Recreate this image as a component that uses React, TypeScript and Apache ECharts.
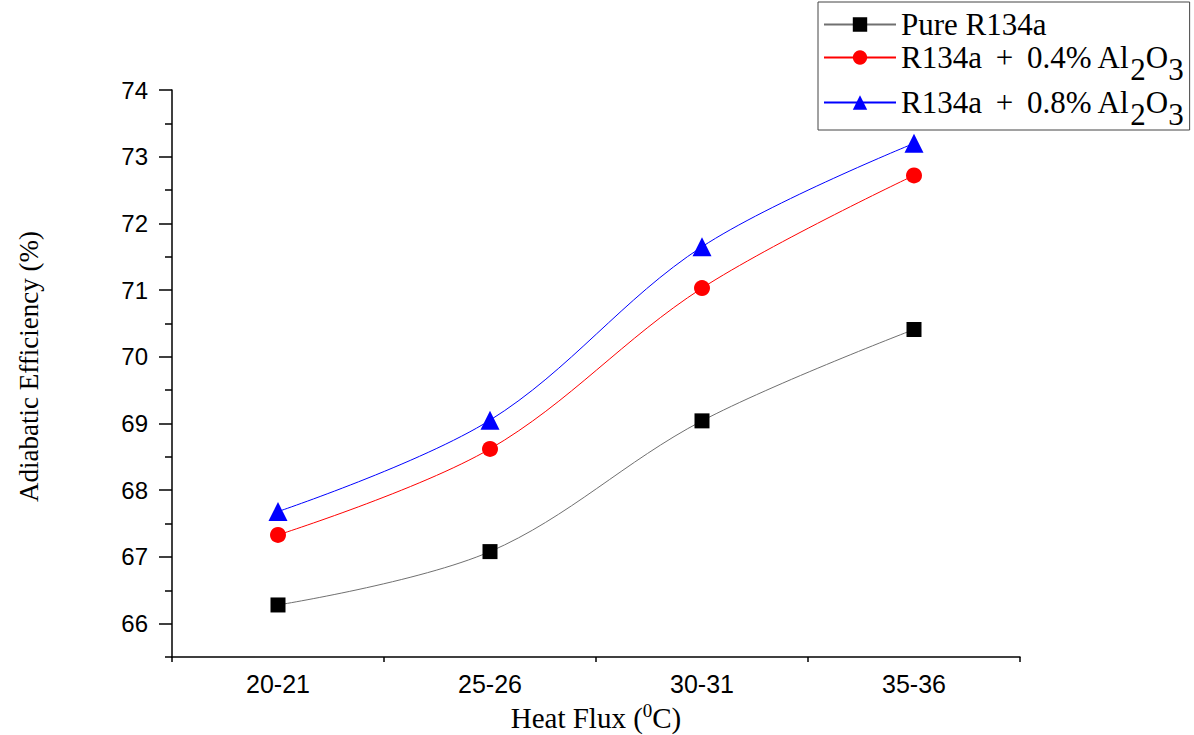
import React, { useEffect, useRef } from "react";
import * as echarts from "echarts";

const categories = ["20-21", "25-26", "30-31", "35-36"];
const pureR134a = [66.28, 67.08, 69.04, 70.41];
const al04 = [67.33, 68.62, 71.03, 72.72];
const al08 = [67.68, 69.05, 71.65, 73.2];
const yMajorTicks = [66, 67, 68, 69, 70, 71, 72, 73, 74];
const yMinorTicks = [65.5, 66.5, 67.5, 68.5, 69.5, 70.5, 71.5, 72.5, 73.5];
const seriesNames = ["Pure R134a", "R134a + 0.4% Al2O3", "R134a + 0.8% Al2O3"];

const SERIF = "'Liberation Serif', 'Times New Roman', serif";
const SANS = "'Liberation Sans', Arial, sans-serif";

function legendFmt(name: string): string {
  const m = name.match(/^R134a \+ (.*)Al2O3$/);
  if (!m) return `{n|${name}}`;
  return `{n|R134a }{w|+}{n| ${m[1]}Al}{s|2}{n|O}{s|3}`;
}

export default function App() {
  const ref = useRef<HTMLDivElement>(null);
  useEffect(() => {
    if (!ref.current) return;
    const chart = echarts.init(ref.current, null, { renderer: "svg" });
    const axisColor = "#000";
    const legendFont = 31;
    chart.setOption({
      animation: false,
      backgroundColor: "#fff",
      grid: { left: 172, right: 174, top: 90, bottom: 78, containLabel: false, outerBoundsMode: "none" },
      legend: {
        orient: "vertical",
        left: 818,
        top: 2,
        padding: [7, 6, 0, 5],
        itemGap: 2,
        itemWidth: 72,
        itemHeight: 18,
        borderColor: "#444",
        borderWidth: 1,
        data: seriesNames,
        formatter: legendFmt,
        textStyle: {
          fontFamily: SERIF,
          fontSize: legendFont,
          color: "#000",
          rich: {
            n: { fontFamily: SERIF, fontSize: legendFont, color: "#000", lineHeight: 34 },
            w: { fontFamily: SERIF, fontSize: legendFont, color: "#000", lineHeight: 34, padding: [0, 6, 0, 6] },
            s: { fontFamily: SERIF, fontSize: legendFont, color: "#000", lineHeight: 34, height: 10, verticalAlign: "bottom" },
          },
        },
      },
      xAxis: [
        {
          type: "category",
          data: categories,
          boundaryGap: true,
          axisLine: { lineStyle: { color: axisColor, width: 1.5 } },
          axisTick: { alignWithLabel: true, length: 11, lineStyle: { color: axisColor, width: 1.5 } },
          axisLabel: { fontFamily: SANS, fontSize: 25, color: "#000", margin: 14 },
          splitLine: { show: false },
          name: "{n|Heat Flux (}{sup|0}{n|C)}",
          nameLocation: "middle",
          nameGap: 41,
          nameTextStyle: {
            rich: {
              n: { fontFamily: SERIF, fontSize: 29, color: "#000", lineHeight: 34 },
              sup: { fontFamily: SERIF, fontSize: 19, color: "#000", lineHeight: 22, verticalAlign: "top" },
            },
          },
        },
        {
          type: "category",
          data: categories,
          boundaryGap: true,
          position: "bottom",
          axisLine: { show: false },
          axisTick: { show: true, interval: 0, length: 5, lineStyle: { color: axisColor, width: 1.5 } },
          axisLabel: { show: false },
          splitLine: { show: false },
        },
      ],
      yAxis: [
        {
          type: "value",
          min: 65.5,
          max: 74,
          axisLine: { show: true, lineStyle: { color: axisColor, width: 1.5 } },
          axisTick: { show: true, length: 13, customValues: yMajorTicks, lineStyle: { color: axisColor, width: 1.5 } },
          axisLabel: { fontFamily: SANS, fontSize: 24, color: "#000", margin: 24, customValues: yMajorTicks },
          splitLine: { show: false },
          name: "Adiabatic Efficiency (%)",
          nameLocation: "middle",
          nameGap: 130,
          nameTextStyle: { fontFamily: SERIF, fontSize: 27, color: "#000", padding: [0, 0, 0, 14] },
        },
        {
          type: "value",
          min: 65.5,
          max: 74,
          position: "left",
          axisLine: { show: false },
          axisTick: { show: true, length: 7, customValues: yMinorTicks, lineStyle: { color: axisColor, width: 1.5 } },
          axisLabel: { show: false },
          splitLine: { show: false },
        },
      ],
      series: [
        {
          name: seriesNames[0],
          type: "line",
          data: pureR134a,
          smooth: 0.35,
          symbol: "rect",
          symbolSize: 15,
          itemStyle: { color: "#000" },
          lineStyle: { color: "#707070", width: 1 },
        },
        {
          name: seriesNames[1],
          type: "line",
          data: al04,
          smooth: 0.35,
          symbol: "circle",
          symbolSize: 16,
          itemStyle: { color: "#ff0000" },
          lineStyle: { color: "#ff0000", width: 1 },
        },
        {
          name: seriesNames[2],
          type: "line",
          data: al08,
          smooth: 0.35,
          symbol: "triangle",
          symbolSize: 19,
          itemStyle: { color: "#0000ff" },
          lineStyle: { color: "#0000ff", width: 1 },
        },
      ],
    });
    return () => chart.dispose();
  }, []);
  return <div ref={ref} style={{ width: 1194, height: 735, position: "absolute", left: 0, top: 0 }} />;
}
